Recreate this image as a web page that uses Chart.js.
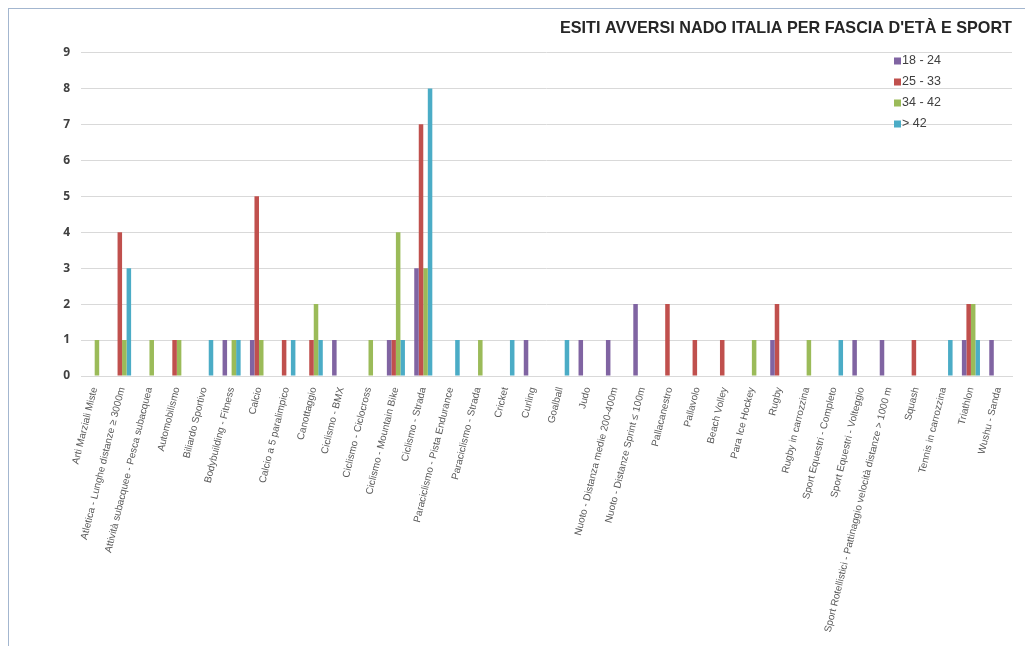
<!DOCTYPE html>
<html>
<head>
<meta charset="utf-8">
<script src="https://cdn.jsdelivr.net/npm/chart.js@4"></script>
<style>
  body { margin: 0; background: #fff; }
  #wrap { position: relative; width: 1030px; height: 646px; }
  #frame { position: absolute; left: 8px; top: 8px; width: 1016px; height: 640px;
           border-left: 1px solid #a3b6cf; border-top: 1px solid #a3b6cf; }
</style>
</head>
<body>
<div id="wrap">
  <div id="frame"></div>
  <canvas id="barChart"></canvas>
</div>
<script>
'use strict';

const sports = [
  'Arti Marziali Miste',
  'Atletica - Lunghe distanze ≥ 3000m',
  'Attività subacquee - Pesca subacquea',
  'Automobilismo',
  'Biliardo Sportivo',
  'Bodybuilding - Fitness',
  'Calcio',
  'Calcio a 5 paralimpico',
  'Canottaggio',
  'Ciclismo - BMX',
  'Ciclismo - Ciclocross',
  'Ciclismo - Mountain Bike',
  'Ciclismo - Strada',
  'Paraciclismo - Pista Endurance',
  'Paraciclismo - Strada',
  'Cricket',
  'Curling',
  'Goalball',
  'Judo',
  'Nuoto - Distanza medie 200-400m',
  'Nuoto - Distanze Sprint ≤ 100m',
  'Pallacanestro',
  'Pallavolo',
  'Beach Volley',
  'Para Ice Hockey',
  'Rugby',
  'Rugby in carrozzina',
  'Sport Equestri - Completo',
  'Sport Equestri - Volteggio',
  'Sport Rotellistici - Pattinaggio velocità distanze > 1000 m',
  'Squash',
  'Tennis in carrozzina',
  'Triathlon',
  'Wushu - Sanda'
];

const age18_24 = [0,0,0,0,0,1,1,0,0,1,0,1,3,0,0,0,1,0,1,1,2,0,0,0,0,1,0,0,1,1,0,0,1,1];
const age25_33 = [0,4,0,1,0,0,5,1,1,0,0,1,7,0,0,0,0,0,0,0,0,2,1,1,0,2,0,0,0,0,1,0,2,0];
const age34_42 = [1,1,1,1,0,1,1,0,2,0,1,4,3,0,1,0,0,0,0,0,0,0,0,0,1,0,1,0,0,0,0,0,2,0];
const ageOver42 = [0,3,0,0,1,1,0,1,1,0,0,1,8,1,0,1,0,1,0,0,0,0,0,0,0,0,0,1,0,0,0,1,1,0];

const yTicks = [0,1,2,3,4,5,6,7,8,9];

// legend drawn inside the plot, top right
const boxLegend = {
  id: 'boxLegend',
  afterDraw(chart) {
    const ctx = chart.ctx;
    ctx.save();
    ctx.font = '12.5px "Liberation Sans", Arial, sans-serif';
    ctx.textBaseline = 'middle';
    chart.data.datasets.forEach((ds, i) => {
      const y = 61 + i * 21;
      ctx.fillStyle = ds.backgroundColor;
      ctx.fillRect(894, y - 3.5, 7, 7);
      ctx.fillStyle = '#404040';
      ctx.fillText(ds.label, 902, y);
    });
    ctx.restore();
  }
};

const bar_data = {
  labels: sports,
  datasets: [
    { label: '18 - 24', data: age18_24, backgroundColor: '#8064a2' },
    { label: '25 - 33', data: age25_33, backgroundColor: '#c0504d' },
    { label: '34 - 42', data: age34_42, backgroundColor: '#9bbb59' },
    { label: '> 42', data: ageOver42, backgroundColor: '#4bacc6' }
  ]
};

const bar_config = {
  type: 'bar',
  data: bar_data,
  options: {
    responsive: true,
    maintainAspectRatio: false,
    animation: false,
    categoryPercentage: 0.66,
    barPercentage: 1,
    layout: { padding: { left: 0, right: 18, bottom: 10, top: 0 } },
    plugins: {
      legend: { display: false },
      tooltip: { enabled: false },
      title: {
        display: true,
        text: "ESITI AVVERSI NADO ITALIA PER FASCIA D'ETÀ E SPORT",
        align: 'end',
        color: '#262626',
        font: { family: '"Liberation Sans", Arial, sans-serif', size: 16.2, weight: 'bold' },
        padding: { top: 19, bottom: 14 }
      }
    },
    scales: {
      x: {
        grid: { display: false },
        border: { color: '#d9d9d9' },
        ticks: {
          autoSkip: false,
          minRotation: 76,
          maxRotation: 76,
          color: '#595959',
          padding: 2,
          font: { family: '"Liberation Sans", Arial, sans-serif', size: 10 }
        },
        afterFit: scale => { scale.height = 260; }
      },
      y: {
        min: 0,
        max: 9,
        afterBuildTicks: scale => { scale.ticks = yTicks.map(v => ({ value: v })); },
        grid: { color: '#d9d9d9', drawTicks: false },
        border: { display: false },
        ticks: {
          color: '#404040',
          padding: 11,
          font: { family: '"Noto Sans", sans-serif', size: 12, weight: 'bold' }
        },
        afterFit: scale => { scale.width = 81; }
      }
    }
  },
  plugins: [boxLegend]
};

const myBarChart = new Chart(
  document.getElementById('barChart'),
  bar_config
);
</script>
</body>
</html>
